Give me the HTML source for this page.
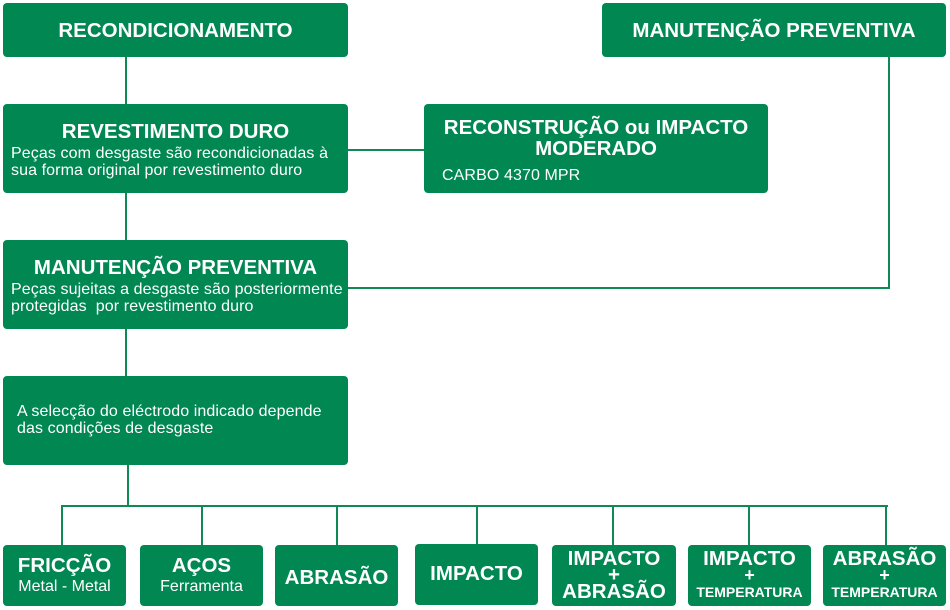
<!DOCTYPE html>
<html><head><meta charset="utf-8"><style>
body{margin:0;width:950px;height:610px;background:#fff;position:relative;overflow:hidden;font-family:"Liberation Sans",Arial,sans-serif;color:#fff}
.b{position:absolute;background:#008752;border-radius:4px;box-sizing:border-box}
.l{position:absolute;background:#108a55}
.t{font-weight:bold;font-size:20.5px;text-align:center}
.s{font-size:16px;line-height:17px;letter-spacing:0.1px;white-space:nowrap}
.bt{display:flex;flex-direction:column;justify-content:center;align-items:center;text-align:center;font-weight:bold}
</style></head><body>
<div class="l" style="left:125px;top:57px;width:2px;height:47px"></div>
<div class="l" style="left:125px;top:193px;width:2px;height:47px"></div>
<div class="l" style="left:125px;top:329px;width:2px;height:47px"></div>
<div class="l" style="left:127px;top:465px;width:2px;height:41px"></div>
<div class="l" style="left:61px;top:505px;width:827px;height:2px"></div>
<div class="l" style="left:61px;top:505px;width:2px;height:40px"></div>
<div class="l" style="left:201px;top:505px;width:2px;height:40px"></div>
<div class="l" style="left:336px;top:505px;width:2px;height:40px"></div>
<div class="l" style="left:476px;top:505px;width:2px;height:40px"></div>
<div class="l" style="left:612px;top:505px;width:2px;height:40px"></div>
<div class="l" style="left:748px;top:505px;width:2px;height:40px"></div>
<div class="l" style="left:885px;top:505px;width:2px;height:40px"></div>
<div class="l" style="left:348px;top:149px;width:76px;height:2px"></div>
<div class="l" style="left:888px;top:57px;width:2px;height:232px"></div>
<div class="l" style="left:348px;top:287px;width:542px;height:2px"></div>
<div class="b t" style="left:3px;top:3px;width:345px;height:54px;line-height:56px">RECONDICIONAMENTO</div>
<div class="b t" style="left:602px;top:3px;width:344px;height:54px;line-height:56px">MANUTENÇÃO PREVENTIVA</div>
<div class="b" style="left:3px;top:104px;width:345px;height:89px">
<div class="t" style="margin-top:17px;line-height:22px">REVESTIMENTO DURO</div>
<div class="s" style="margin-left:8px;margin-top:2px">Peças com desgaste são recondicionadas à<br>sua forma original por revestimento duro</div></div>
<div class="b" style="left:424px;top:104px;width:344px;height:89px">
<div class="t" style="margin-top:13px;line-height:21px">RECONSTRUÇÃO ou IMPACTO<br>MODERADO</div>
<div class="s" style="margin-left:18px;margin-top:8px">CARBO 4370 MPR</div></div>
<div class="b" style="left:3px;top:240px;width:345px;height:89px">
<div class="t" style="margin-top:17px;line-height:22px">MANUTENÇÃO PREVENTIVA</div>
<div class="s" style="margin-left:8px;margin-top:2px">Peças sujeitas a desgaste são posteriormente<br>protegidas&nbsp; por revestimento duro</div></div>
<div class="b" style="left:3px;top:376px;width:345px;height:89px">
<div class="s" style="margin-left:14px;margin-top:27px">A selecção do eléctrodo indicado depende<br>das condições de desgaste</div></div>
<div class="b bt" style="left:3px;top:545px;width:123px;height:61px"><div style="font-size:20.5px;line-height:23px">FRICÇÃO</div><div style="font-size:16px;font-weight:normal;line-height:20px">Metal - Metal</div></div>
<div class="b bt" style="left:140px;top:545px;width:123px;height:61px"><div style="font-size:20.5px;line-height:23px">AÇOS</div><div style="font-size:16px;font-weight:normal;line-height:20px">Ferramenta</div></div>
<div class="b bt" style="left:275px;top:545px;width:123px;height:61px;font-size:20.5px;padding-top:4px">ABRASÃO</div>
<div class="b bt" style="left:415px;top:544px;width:123px;height:61px;font-size:20.5px;padding-bottom:2px">IMPACTO</div>
<div class="b bt" style="left:552px;top:545px;width:124px;height:61px;font-size:20.5px;line-height:16.5px">IMPACTO<br>+<br>ABRASÃO</div>
<div class="b bt" style="left:688px;top:545px;width:123px;height:61px;line-height:17px"><div style="font-size:20.5px">IMPACTO</div><div style="font-size:18px">+</div><div style="font-size:14px">TEMPERATURA</div></div>
<div class="b bt" style="left:823px;top:545px;width:123px;height:61px;line-height:17px"><div style="font-size:20.5px">ABRASÃO</div><div style="font-size:18px">+</div><div style="font-size:14px">TEMPERATURA</div></div>
</body></html>
